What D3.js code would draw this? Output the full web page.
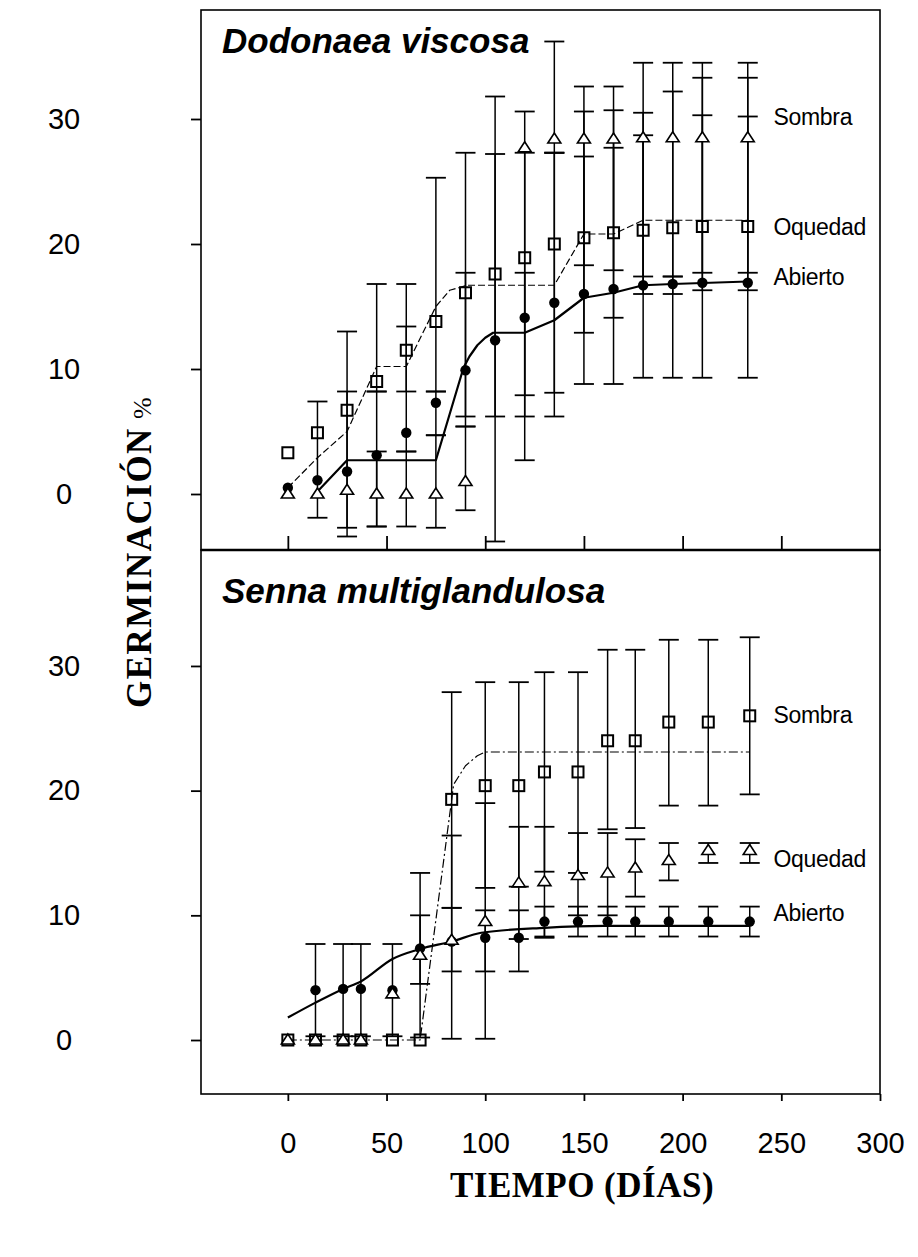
<!DOCTYPE html>
<html>
<head>
<meta charset="utf-8">
<script src="https://cdn.jsdelivr.net/npm/d3@7/dist/d3.min.js"></script>
<style>
  html, body { margin: 0; padding: 0; background: #fff; }
  svg { display: block; }
</style>
</head>
<body>
<div id="chart"></div>
<script>
// ---------------- DATA ----------------
const xTickValues = [0, 50, 100, 150, 200, 250, 300];
const yTickValues = [0, 10, 20, 30];

// Panel 1: Dodonaea viscosa
const topTitle = "Dodonaea viscosa";
const topDays = [0, 15, 30, 45, 60, 75, 90, 105, 120, 135, 150, 165, 180, 195, 210, 233];
const topAbierto   = [0.5, 1.1, 1.8, 3.1, 4.9, 7.3, 9.9, 12.3, 14.1, 15.3, 16.0, 16.4, 16.7, 16.8, 16.9, 16.9];
const topAbiertoLo = [null, -1.9, -2.7, -2.6, 3.4, 4.7, 6.2, -3.8, 2.7, 8.1, 12.9, 14.1, 16.0, 16.0, 16.3, 16.3];
const topAbiertoHi = [null, 7.4, 8.2, 8.2, 13.4, 8.2, 17.7, 27.2, 17.7, 27.3, 27.0, 27.7, 28.7, 17.4, 30.3, 30.2];
const topOquedad   = [3.3, 4.9, 6.7, 9.0, 11.5, 13.8, 16.1, 17.6, 18.9, 20.0, 20.5, 20.9, 21.1, 21.3, 21.4, 21.4];
const topOquedadLo = [null, null, -3.4, 8.2, 8.2, 8.2, 5.4, 6.2, 6.2, 6.2, 8.8, 8.8, 9.3, 9.3, 9.3, 9.3];
const topOquedadHi = [null, null, 13.0, 16.8, 16.8, 25.3, 27.3, 31.8, 27.3, 27.3, 30.6, 30.7, 30.5, 32.2, 33.3, 33.3];
const topSombra    = [0, 0, 0.3, 0, 0, 0, 1.0, null, 27.7, 28.4, 28.4, 28.4, 28.5, 28.5, 28.5, 28.5];
const topSombraLo  = [null, null, null, -2.6, -2.6, -2.7, -1.3, null, 7.9, 27.3, 18.3, 17.9, 17.4, 17.4, 17.7, 17.7];
const topSombraHi  = [null, null, null, 3.4, 3.4, 4.7, 5.4, null, 30.6, 36.2, 32.6, 32.6, 34.5, 34.5, 34.5, 34.5];
const topFitAbiertoDays = [15, 30, 75, 89, 92, 96, 100, 104, 120, 135, 150, 165, 180, 195, 233];
const topFitAbierto     = [0.2, 2.7, 2.7, 10.1, 11.0, 11.9, 12.5, 12.9, 12.9, 13.9, 15.7, 16.1, 16.7, 16.8, 17.0];
const topFitOquedadDays = [0, 15, 30, 45, 60, 75, 82, 91, 135, 150, 165, 180, 233];
const topFitOquedad     = [0.5, 2.9, 5.0, 10.2, 10.2, 15.0, 16.3, 16.7, 16.7, 20.8, 20.8, 21.9, 21.9];
const topLabels = ["Sombra", "Oquedad", "Abierto"];
const topLabelValues = [30.2, 21.4, 17.4];

// Panel 2: Senna multiglandulosa
const botTitle = "Senna multiglandulosa";
const botDays = [0, 14, 28, 37, 53, 67, 83, 100, 117, 130, 147, 162, 176, 193, 213, 234];
const botAbierto   = [null, 4.0, 4.1, 4.1, 4.0, 7.35, 7.9, 8.2, 8.2, 9.5, 9.5, 9.5, 9.5, 9.5, 9.5, 9.5];
const botAbiertoLo = [null, 0.3, 0.3, 0.3, 0.3, 4.5, 5.5, 5.5, 5.5, 8.3, 8.3, 8.3, 8.3, 8.3, 8.3, 8.3];
const botAbiertoHi = [null, 7.7, 7.7, 7.7, 7.7, 10.0, 10.6, 10.4, 10.4, 10.7, 10.7, 10.7, 10.7, 10.7, 10.7, 10.7];
const botOquedad   = [0, 0, 0, 0, 3.7, 6.8, 8.0, 9.5, 12.6, 12.7, 13.2, 13.4, 13.8, 14.4, 15.2, 15.2];
const botOquedadLo = [null, null, null, null, null, 0.2, 0.1, 0.1, 8.1, 8.2, 10.0, 10.0, 11.5, 12.8, 14.2, 14.2];
const botOquedadHi = [null, null, null, null, null, 13.4, 16.4, 19.0, 17.1, 17.1, 16.6, 16.6, 16.1, 15.8, 15.8, 15.8];
const botSombra    = [0, 0, 0, 0, 0, 0, 19.3, 20.4, 20.4, 21.5, 21.5, 24.0, 24.0, 25.5, 25.5, 26.0];
const botSombraLo  = [null, null, null, null, null, null, 10.6, 12.2, 12.3, 13.5, 13.4, 16.9, 17.0, 18.8, 18.8, 19.7];
const botSombraHi  = [null, null, null, null, null, null, 27.9, 28.7, 28.7, 29.5, 29.5, 31.3, 31.3, 32.1, 32.1, 32.3];
const botFitAbiertoDays = [0, 14, 28, 37, 53, 67, 83, 98, 130, 160, 234];
const botFitAbierto     = [1.8, 3.0, 4.1, 4.7, 6.5, 7.3, 7.9, 8.6, 9.0, 9.15, 9.15];
const botFitSombraDays  = [0, 67, 84, 90, 96, 100, 234];
const botFitSombra      = [0, 0, 20.5, 22.0, 22.8, 23.1, 23.1];
const botLabels = ["Sombra", "Oquedad", "Abierto"];
const botLabelValues = [26.1, 14.5, 10.2];

const yTitle = "GERMINACIÓN";
const yTitleUnit = "%";
const xTitle = "TIEMPO (DÍAS)";

// ---------------- LAYOUT ----------------
const W = 918, H = 1257;
const L = 201, R = 880, T = 10, MID = 550, B = 1094;

const svg = d3.select("#chart").append("svg")
  .attr("width", W).attr("height", H)
  .attr("viewBox", `0 0 ${W} ${H}`);
svg.append("rect").attr("width", W).attr("height", H).attr("fill", "#fff");

const x = d3.scaleLinear().domain([-44, 300]).range([L, R]);
const yTop = d3.scaleLinear().domain([-4.48, 38.72]).range([MID, T]);
const yBot = d3.scaleLinear().domain([-4.33, 39.3]).range([B, MID]);

const sans = "'Liberation Sans', Arial, Helvetica, sans-serif";
const serif = "'Liberation Serif', 'Times New Roman', serif";

function zip(days, vals) {
  return days.map((d, i) => ({ d, v: vals[i] })).filter(p => p.v != null);
}
function bars(days, vals, lo, hi) {
  return days.map((d, i) => ({ d, v: vals[i], lo: lo[i], hi: hi[i] }))
    .filter(p => p.lo != null && p.hi != null);
}

function drawPanel(g, y, cfg) {
  // fitted lines
  cfg.fits.forEach(f => {
    const line = d3.line().x(p => x(p.d)).y(p => y(p.v)).curve(f.curve || d3.curveLinear);
    g.append("path").datum(zip(f.days, f.vals))
      .attr("d", line).attr("fill", "none")
      .attr("stroke", "#000").attr("stroke-width", f.w)
      .attr("stroke-linejoin", "round")
      .attr("stroke-dasharray", f.dash || null);
  });
  // error bars
  const cap = 10;
  cfg.series.forEach(s => {
    const eb = g.append("g");
    const data = bars(cfg.days, s.vals, s.lo, s.hi);
    eb.selectAll("line.v").data(data).enter().append("line")
      .attr("x1", p => x(p.d)).attr("x2", p => x(p.d))
      .attr("y1", p => y(p.lo)).attr("y2", p => y(p.hi))
      .attr("stroke", "#000").attr("stroke-width", 1.5);
    ["lo", "hi"].forEach(k => {
      eb.selectAll("line." + k).data(data).enter().append("line")
        .attr("x1", p => x(p.d) - cap).attr("x2", p => x(p.d) + cap)
        .attr("y1", p => y(p[k])).attr("y2", p => y(p[k]))
        .attr("stroke", "#000").attr("stroke-width", 1.8);
    });
  });
  // markers
  cfg.series.forEach(s => {
    const pts = zip(cfg.days, s.vals);
    const mg = g.append("g");
    if (s.shape === "circle") {
      mg.selectAll("circle").data(pts).enter().append("circle")
        .attr("cx", p => x(p.d)).attr("cy", p => y(p.v)).attr("r", 5.2)
        .attr("fill", "#000");
    } else if (s.shape === "square") {
      mg.selectAll("rect").data(pts).enter().append("rect")
        .attr("x", p => x(p.d) - 5.5).attr("y", p => y(p.v) - 5.5)
        .attr("width", 11).attr("height", 11)
        .attr("fill", "none").attr("stroke", "#000").attr("stroke-width", 2);
    } else {
      mg.selectAll("path").data(pts).enter().append("path")
        .attr("d", p => {
          const cx = x(p.d), cy = y(p.v);
          return `M${cx - 6.5},${cy + 4}L${cx},${cy - 6}L${cx + 6.5},${cy + 4}Z`;
        })
        .attr("fill", "#fff").attr("stroke", "#000").attr("stroke-width", 1.6);
    }
  });
  // series labels
  g.selectAll("text.lab").data(cfg.labels.map((t, i) => ({ t, v: cfg.labelValues[i] })))
    .enter().append("text")
    .attr("x", x(246)).attr("y", p => y(p.v))
    .attr("dy", "0.35em")
    .attr("font-family", sans).attr("font-size", 23)
    .attr("letter-spacing", -0.3)
    .text(p => p.t);
  // title
  g.append("text").attr("x", L + 21).attr("y", cfg.titleY)
    .attr("font-family", sans).attr("font-size", 35)
    .attr("font-weight", "bold").attr("font-style", "italic")
    .text(cfg.title);
  // y axis
  const ay = g.append("g").attr("transform", `translate(${L},0)`)
    .call(d3.axisLeft(y).tickValues(yTickValues).tickSize(10).tickFormat(d3.format("d")));
  ay.select(".domain").remove();
  ay.selectAll(".tick line").attr("stroke", "#000").attr("stroke-width", 1.8);
  ay.selectAll(".tick text").attr("x", 64 - L).attr("text-anchor", "middle")
    .attr("font-family", sans).attr("font-size", 29).attr("fill", "#000");
}

const gTop = svg.append("g");
drawPanel(gTop, yTop, {
  days: topDays, title: topTitle, titleY: 53,
  labels: topLabels, labelValues: topLabelValues,
  fits: [
    { days: topFitOquedadDays, vals: topFitOquedad, w: 1.2, dash: "7,3" },
    { days: topFitAbiertoDays, vals: topFitAbierto, w: 2.2 }
  ],
  series: [
    { vals: topOquedad, lo: topOquedadLo, hi: topOquedadHi, shape: "square" },
    { vals: topAbierto, lo: topAbiertoLo, hi: topAbiertoHi, shape: "circle" },
    { vals: topSombra, lo: topSombraLo, hi: topSombraHi, shape: "triangle" }
  ]
});

const gBot = svg.append("g");
drawPanel(gBot, yBot, {
  days: botDays, title: botTitle, titleY: 603,
  labels: botLabels, labelValues: botLabelValues,
  fits: [
    { days: botFitSombraDays, vals: botFitSombra, w: 1.2, dash: "9,3,2,3" },
    { days: botFitAbiertoDays, vals: botFitAbierto, w: 2.2, curve: d3.curveMonotoneX }
  ],
  series: [
    { vals: botSombra, lo: botSombraLo, hi: botSombraHi, shape: "square" },
    { vals: botAbierto, lo: botAbiertoLo, hi: botAbiertoHi, shape: "circle" },
    { vals: botOquedad, lo: botOquedadLo, hi: botOquedadHi, shape: "triangle" }
  ]
});

// x ticks: inward on top panel, outward with labels on bottom panel
const axTop = svg.append("g").attr("transform", `translate(0,${MID})`)
  .call(d3.axisBottom(x).tickValues(xTickValues.slice(0, -1)).tickSize(-14).tickFormat(""));
axTop.select(".domain").remove();
axTop.selectAll(".tick line").attr("stroke", "#000").attr("stroke-width", 1.8);

const axBot = svg.append("g").attr("transform", `translate(0,${B})`)
  .call(d3.axisBottom(x).tickValues(xTickValues).tickSize(7).tickPadding(31).tickFormat(d3.format("d")));
axBot.select(".domain").remove();
axBot.selectAll(".tick line").attr("stroke", "#000").attr("stroke-width", 1.8);
axBot.selectAll(".tick text").attr("font-family", sans).attr("font-size", 29).attr("fill", "#000");

// frames
svg.append("rect").attr("x", L).attr("y", T).attr("width", R - L).attr("height", MID - T)
  .attr("fill", "none").attr("stroke", "#000").attr("stroke-width", 1.6);
svg.append("rect").attr("x", L).attr("y", MID).attr("width", R - L).attr("height", B - MID)
  .attr("fill", "none").attr("stroke", "#000").attr("stroke-width", 1.6);
svg.append("line").attr("x1", L).attr("x2", R).attr("y1", MID).attr("y2", MID)
  .attr("stroke", "#000").attr("stroke-width", 2.4);

// axis titles
const yt = svg.append("text")
  .attr("transform", `translate(151,${(T + B) / 2}) rotate(-90)`)
  .attr("text-anchor", "middle")
  .attr("font-family", serif).attr("font-weight", "bold").attr("font-size", 35)
  .attr("letter-spacing", 1.5);
yt.append("tspan").text(yTitle);
yt.append("tspan").attr("dx", 8).attr("font-size", 26).attr("font-weight", "normal").text(yTitleUnit);

svg.append("text").attr("x", 582).attr("y", 1197)
  .attr("text-anchor", "middle")
  .attr("font-family", serif).attr("font-weight", "bold").attr("font-size", 35)
  .attr("letter-spacing", 0.5)
  .text(xTitle);
</script>
</body>
</html>
